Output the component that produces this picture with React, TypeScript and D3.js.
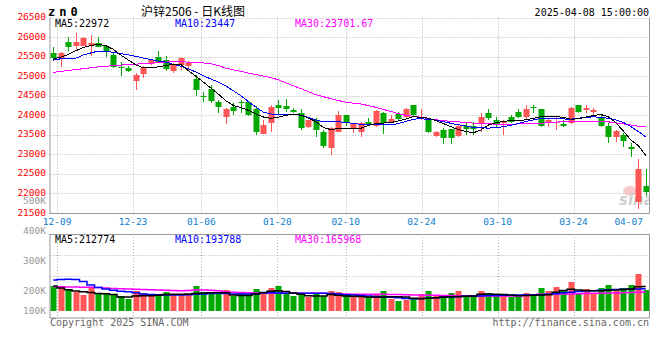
import React from "react";
import * as d3 from "d3";

const dates = [
  "12-06","12-09","12-10","12-11","12-12","12-13","12-16","12-17","12-18","12-19","12-20","12-23","12-24","12-25","12-26","12-27","12-30","12-31",
  "01-02","01-03","01-06","01-07","01-08","01-09","01-10","01-13","01-14","01-15","01-16","01-17","01-20","01-21","01-22","01-23","01-24","01-27",
  "02-05","02-06","02-07","02-10","02-11","02-12","02-13","02-14","02-17","02-18","02-19","02-20","02-21","02-24","02-25","02-26","02-27","02-28",
  "03-03","03-04","03-05","03-06","03-07","03-10","03-11","03-12","03-13","03-14","03-17","03-18","03-19","03-20","03-21","03-24","03-25","03-26","03-27","03-28","03-31",
  "04-01","04-02","04-03","04-07","04-08"
];

const opens = [
  25585,25434,25882,25772,25772,25772,25856,25772,25541,25242,25200,24884,25056,25304,25483,25414,25140,25286,25250,24920,24500,24664,24347,
  23963,24204,24330,24347,24153,23521,23795,24263,24237,24135,24050,23692,23879,23580,23155,23580,24007,23682,23580,23820,23725,24066,23835,24025,23963,24263,23940,23897,23470,
  23623,23641,23470,23725,23720,23777,24066,23879,23795,23963,24091,23963,24204,24153,23795,23820,23777,23795,24263,24135,24091,23938,23725,23436,23495,23196,21789,22198
];
const highs = [
  25740,25610,26010,26097,26000,26043,26010,25780,25600,25370,25250,25080,25250,25440,25652,25523,25330,25480,25380,25030,24600,24774,24400,
  24178,24306,24391,24360,24237,23879,24263,24391,24408,24178,24153,23890,23922,23623,23708,24117,24010,23795,23835,23938,24135,24091,24007,24091,24178,24270,24153,23900,23600,
  23667,23660,23740,23835,23830,24066,24153,23963,23879,24007,24153,24263,24263,24160,23922,23963,23879,24219,24270,24263,24178,24007,23795,23623,23539,23283,22874,22626
];
const lows = [
  25415,25242,25652,25688,25760,25516,25740,25500,25200,25004,25100,24646,24946,25290,25340,25140,25074,25160,25160,24494,24350,24306,24050,
  23777,24007,24066,23990,23495,23510,23580,24007,24091,24050,23623,23680,23452,23155,22984,23570,23720,23554,23452,23725,23710,23521,23795,23879,23922,23963,23879,23554,23450,
  23265,23265,23450,23495,23500,23580,23879,23692,23495,23795,23922,23879,24050,23710,23710,23623,23710,23777,24050,24066,24007,23692,23298,23324,23196,22940,21595,21943
];
const closes = [
  25457,25600,25754,25882,25984,25856,25754,25626,25242,25196,25140,25030,25200,25414,25363,25176,25312,25457,25330,24646,24480,24373,24203,
  24153,24117,24310,24007,23580,23751,24219,24194,24153,24091,23667,23879,23623,23214,23667,24007,23795,23769,23810,23769,24117,23795,23897,23897,24153,24007,23963,23580,23580,
  23411,23411,23725,23641,23650,23963,23922,23777,23835,23835,23963,24153,24190,23725,23879,23840,23725,24194,24091,24178,24135,23725,23436,23598,23349,23137,22626,22030
];
const volumes = [
  217,206,189,169,142,206,161,150,150,136,108,178,161,150,150,167,150,150,142,219,167,167,156,
  183,136,161,150,192,167,200,219,161,136,161,128,150,136,178,167,150,128,150,128,150,178,108,94,100,114,150,178,142,
  142,161,178,142,142,178,161,150,142,128,128,161,150,203,178,211,183,250,161,189,150,203,225,178,203,225,317,183
].map(v => v * 1000);

const ma5 = [
  25434,25490,25554,25649,25731,25785,25810,25780,25687,25542,25414,25291,25209,25209,25240,25273,25304,25299,25145,24999,24851,24698,
  24544,24373,24250,24201,24127,24032,23956,23922,23953,23999,24025,24004,23930,23838,23690,23631,23662,23667,23667,23667,23741,23784,23800,23812,23853,23902,23963,23945,23925,23864,
  23789,23710,23631,23587,23549,23623,23748,23807,23841,23864,23871,23881,23920,23963,23963,23963,23948,23899,23907,23956,23989,24020,23961,23812,23598,23370,23227,22972
];
const ma10 = [
  25409,25444,25457,25457,25542,25593,25641,25636,25608,25575,25544,25506,25465,25424,25388,25358,25301,25255,25189,25107,25010,24928,
  24851,24749,24628,24501,24352,24211,24084,24032,24025,24020,24012,24004,23945,23879,23835,23835,23835,23815,23792,23769,23751,23751,23751,23751,23787,23841,23899,23912,23894,23876,
  23835,23795,23756,23725,23690,23679,23672,23679,23708,23741,23792,23841,23881,23920,23915,23910,23905,23899,23922,23948,23958,23950,23922,23884,23820,23713,23585,23447
];
const ma30 = [
  25097,25122,25145,25168,25191,25214,25237,25253,25270,25283,25296,25306,25319,25332,25347,25360,25370,25365,25360,25355,25337,25317,
  25273,25204,25163,25122,25081,25043,25002,24964,24905,24831,24754,24680,24605,24529,24475,24426,24378,24332,24310,24288,24247,24204,24150,24096,24043,23999,23974,23948,23915,23884,
  23861,23846,23831,23815,23800,23787,23779,23774,23772,23772,23777,23782,23787,23795,23810,23823,23835,23848,23851,23846,23843,23838,23831,23807,23779,23751,23718,23702
];
const vma5 = [
  217,200,186,176,168,162,155,152,146,125,125,134,135,136,140,146,147,147,150,155,158,160,
  161,160,142,138,137,150,163,172,177,170,158,148,135,133,133,145,140,134,132,130,124,123,125,127,128,124,115,111,115,119,
  125,128,130,132,134,148,149,148,145,141,136,138,140,142,143,165,180,189,183,180,178,178,181,183,187,192,210,213
].map(v => v * 1000);
const vma10 = [
  267,270,272,270,255,225,205,192,182,173,169,160,150,146,143,142,142,142,144,148,150,154,
  156,154,150,150,150,150,158,160,158,156,156,156,156,156,156,155,150,144,141,138,134,130,125,122,118,113,111,112,115,118,
  122,125,128,132,133,134,137,138,139,140,141,142,142,144,147,152,160,165,170,175,178,181,184,187,189,190,192,194
].map(v => v * 1000);
const vma30 = [
  211,210,209,208,207,206,204,200,196,194,192,189,188,186,184,181,179,178,180,183,183,182,
  178,168,165,162,160,158,156,156,156,156,156,156,156,156,156,150,150,149,148,148,147,147,147,146,145,143,142,141,140,139,
  138,137,136,135,134,133,133,133,133,133,133,138,143,147,148,149,150,151,152,154,156,157,158,159,161,162,164,166
].map(v => v * 1000);

const priceTicks = [21500, 22000, 22500, 23000, 23500, 24000, 24500, 25000, 25500, 26000, 26500];
const volTickValues = [100, 200, 300, 400, 500];
const volTickLabels = ["100K", "200K", "300K", "400K", "500K"];
const xLabelDates = ["12-09", "12-23", "01-06", "01-20", "02-10", "02-24", "03-10", "03-24", "04-07"];

const symbol = "zn0";
const titleText = "沪锌2506 - 日K线图";
const stamp = "2025-04-08 15:00:00";
const mainLegend = ["MA5:22972", "MA10:23447", "MA30:23701.67"];
const volLegend = ["MA5:212774", "MA10:193788", "MA30:165968"];

const RED = "#ff5555";
const GREEN = "#00a800";
const MONO = "'DejaVu Sans Mono', monospace";
const GRID = "#b0b0b0";
const AXIS = "#999999";

const LEFT = 49.5, RIGHT = 649.5;
const MAIN_TOP = 17.5, MAIN_BOTTOM = 213;
const VOL_TOP = 234, VOL_BOTTOM = 317.5;

export default function App() {
  const x = d3.scaleBand<string>().domain(dates).range([LEFT, RIGHT]).padding(0);
  const step = x.step();
  const cx = (i: number) => (x(dates[i]) as number) + step / 2;
  const gridX = d3.scalePoint<string>().domain(dates).range([LEFT, RIGHT]).padding(0);
  const bodyW = 6;

  const y = d3.scaleLinear().domain([21500, 26500]).range([MAIN_BOTTOM, MAIN_TOP]);
  const yv = d3.scaleLinear().domain([0, 500000]).range([312, 252]);
  const yvLabel = d3.scaleLinear().domain([100, 200, 500]).range([310.5, 290.5, 200.5]);

  const mainLine = d3.line<number>().x((_, i) => cx(i)).y(v => y(v));
  const volLine = d3.line<number>().x((_, i) => cx(i)).y(v => yv(v)).curve(d3.curveStep);

  const volGrid = d3.range(1, 4).map(k => VOL_TOP + (k * (VOL_BOTTOM - VOL_TOP)) / 4);
  const legendX = [55, 175, 295];
  const legendColors = ["#000000", "#0000ff", "#ff00ff"];

  return (
    <div style={{ position: "fixed", left: 0, top: 0, width: 660, height: 360, background: "#fff" }}>
      <svg width={660} height={360} style={{ display: "block" }}>
        <defs>
          <clipPath id="mainClip">
            <rect x={LEFT} y={MAIN_TOP} width={RIGHT - LEFT} height={MAIN_BOTTOM - MAIN_TOP} />
          </clipPath>
          <clipPath id="volClip">
            <rect x={LEFT} y={VOL_TOP} width={RIGHT - LEFT} height={VOL_BOTTOM - VOL_TOP} />
          </clipPath>
        </defs>
        <rect x={0} y={0} width={660} height={360} fill="#fff" />

        {/* header */}
        <text x={48} y={16} fontFamily={MONO} fontWeight="bold" fontSize={12} letterSpacing={4} fill="#000">{symbol}</text>
        <text x={141} y={15.5} fontFamily="'Noto Sans CJK SC', sans-serif" fontSize={12} fill="#000">{titleText}</text>
        <text x={649} y={15.5} textAnchor="end" fontFamily={MONO} fontSize={10} fill="#000">{stamp}</text>

        {/* main grid */}
        {priceTicks.map(p => (
          <line key={"hg" + p} x1={LEFT} x2={RIGHT} y1={Math.round(y(p)) + 0.5} y2={Math.round(y(p)) + 0.5}
            stroke={GRID} strokeDasharray="1,2" />
        ))}
        {xLabelDates.slice(0, -1).map(d => {
          const gx = Math.round(gridX(d) as number) + 0.5;
          return (
            <g key={"vg" + d}>
              <line x1={gx} x2={gx} y1={MAIN_TOP} y2={MAIN_BOTTOM} stroke={GRID} strokeDasharray="1,2" />
              <line x1={gx} x2={gx} y1={VOL_TOP} y2={VOL_BOTTOM} stroke={GRID} strokeDasharray="1,2" />
            </g>
          );
        })}
        {volGrid.map((gy, k) => (
          <line key={"vhg" + k} x1={LEFT} x2={RIGHT} y1={Math.round(gy) + 0.5} y2={Math.round(gy) + 0.5}
            stroke={GRID} strokeDasharray="1,2" />
        ))}

        {/* watermark */}
        <g clipPath="url(#mainClip)" opacity={0.6}>
          <ellipse cx={630} cy={191} rx={7} ry={5} fill="#f4a8a8" />
          <text x={619} y={205} fontFamily="'DejaVu Sans', sans-serif" fontStyle="italic" fontWeight="bold" fontSize={15} fill="#b0b0b0">sina</text>
        </g>

        {/* candles */}
        <g clipPath="url(#mainClip)">
          {dates.map((d, i) => {
            const o = opens[i], c = closes[i], h = highs[i], l = lows[i];
            const up = c >= o;
            const col = up ? RED : GREEN;
            const xc = Math.round(cx(i));
            const top = Math.round(y(Math.max(o, c)));
            const bot = Math.round(y(Math.min(o, c)));
            return (
              <g key={"c" + d}>
                <line x1={xc + 0.5} x2={xc + 0.5} y1={Math.round(y(h))} y2={Math.round(y(l))} stroke={col} strokeWidth={1} />
                <rect x={xc - bodyW / 2 + 0.5} y={top} width={bodyW} height={Math.max(1, bot - top)} fill={col} />
              </g>
            );
          })}
          <path d={mainLine(ma30) || ""} fill="none" stroke="#ff00ff" strokeWidth={1} shapeRendering="crispEdges" />
          <path d={mainLine(ma10) || ""} fill="none" stroke="#0000ff" strokeWidth={1} shapeRendering="crispEdges" />
          <path d={mainLine(ma5) || ""} fill="none" stroke="#000000" strokeWidth={1} shapeRendering="crispEdges" />
        </g>

        {/* volume bars */}
        <g clipPath="url(#volClip)">
          {dates.map((d, i) => {
            const up = closes[i] >= opens[i];
            const xc = Math.round(cx(i));
            const top = Math.round(yv(volumes[i]));
            return (
              <rect key={"v" + d} x={xc - bodyW / 2 + 0.5} y={top} width={bodyW} height={311 - top} fill={up ? RED : GREEN} />
            );
          })}
          <path d={volLine(vma30) || ""} fill="none" stroke="#ff00ff" strokeWidth={1.5} />
          <path d={volLine(vma10) || ""} fill="none" stroke="#0000ff" strokeWidth={1.5} />
          <path d={volLine(vma5) || ""} fill="none" stroke="#000000" strokeWidth={1.5} />
        </g>

        {/* frames */}
        <line x1={LEFT + 0.5} x2={LEFT + 0.5} y1={MAIN_TOP} y2={MAIN_BOTTOM} stroke={AXIS} />
        <line x1={RIGHT} x2={RIGHT} y1={MAIN_TOP} y2={MAIN_BOTTOM + 0.5} stroke={AXIS} />
        <line x1={LEFT} x2={RIGHT} y1={MAIN_BOTTOM + 0.5} y2={MAIN_BOTTOM + 0.5} stroke={AXIS} />
        <line x1={LEFT} x2={RIGHT} y1={VOL_TOP + 0.5} y2={VOL_TOP + 0.5} stroke={AXIS} />
        <line x1={LEFT + 0.5} x2={LEFT + 0.5} y1={VOL_TOP} y2={VOL_BOTTOM + 0.5} stroke={AXIS} />
        <line x1={RIGHT} x2={RIGHT} y1={VOL_TOP} y2={VOL_BOTTOM + 0.5} stroke={AXIS} />
        <line x1={LEFT} x2={RIGHT} y1={VOL_BOTTOM + 0.5} y2={VOL_BOTTOM + 0.5} stroke={AXIS} />

        {/* legends */}
        {mainLegend.map((t, k) => (
          <text key={"ml" + k} x={legendX[k]} y={27} fontFamily={MONO} fontSize={10} fill={legendColors[k]}>{t}</text>
        ))}
        {volLegend.map((t, k) => (
          <text key={"vl" + k} x={legendX[k]} y={242.5} fontFamily={MONO} fontSize={10} fill={legendColors[k]}>{t}</text>
        ))}

        {/* axis labels */}
        {volTickValues.map((v, k) => (
          <text key={"vt" + v} x={46} y={yvLabel(v) + 3.5} textAnchor="end" fontFamily={MONO} fontSize={9.5} fill="#999">{volTickLabels[k]}</text>
        ))}
        {priceTicks.map(p => (
          <text key={"pt" + p} x={46} y={y(p) + 2.5} textAnchor="end" fontFamily={MONO} fontSize={9.5} fill="#ff0000">{p}</text>
        ))}
        {xLabelDates.map((d, k) => {
          const gx = gridX(d) as number;
          const last = k === xLabelDates.length - 1;
          return (
            <text key={"xl" + d} x={last ? 643 : gx} y={225} textAnchor={last ? "end" : "middle"} fontFamily={MONO} fontSize={9.5} fill="#1080d0">{d}</text>
          );
        })}

        {/* footer */}
        <text x={50} y={326} fontFamily={MONO} fontSize={10} fill="#666">Copyright 2025 SINA.COM</text>
        <text x={649} y={326} textAnchor="end" fontFamily={MONO} fontSize={10} fill="#666">http://finance.sina.com.cn</text>
      </svg>
    </div>
  );
}
